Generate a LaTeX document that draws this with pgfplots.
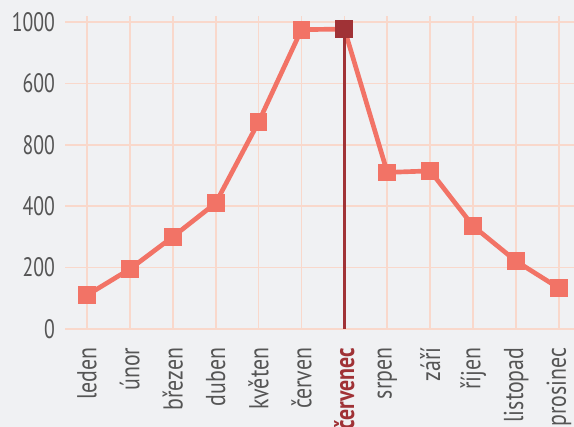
\documentclass[border=0pt]{standalone}
\usepackage{pgfplots}
\pgfplotsset{compat=1.18}
\usepackage{fontspec}
\setmainfont[FakeStretch=0.74]{PT Sans}
\newfontfamily\xf[FakeStretch=0.80]{PT Sans}
\definecolor{bg}{HTML}{F0F1F3}
\definecolor{gridc}{HTML}{F9D8CB}
\definecolor{linec}{HTML}{F27366}
\definecolor{hl}{HTML}{A03236}
\definecolor{txt}{HTML}{555555}
\begin{document}
\begin{tikzpicture}
\fill[bg] (-48.75pt,-73.5pt) rectangle (381.75pt,246.75pt);
\begin{axis}[
  at={(0,0)}, anchor=south west,
  scale only axis, width=381.75pt, height=234.75pt,
  xmin=-0.51, xmax=11.35, ymin=0, ymax=1019.5,
  axis x line*=bottom, axis y line*=left,
  x axis line style={draw=gridc, line width=1.7pt},
  y axis line style={draw=none},
  major tick length=0pt,
  grid=major, grid style={draw=gridc, line width=1.3pt},
  xtick={0,...,11},
  xticklabels={leden,únor,březen,duben,květen,červen,{\color{hl}\bfseries červenec},srpen,září,říjen,listopad,prosinec},
  ytick={0,200,400,600,800,1000},
  yticklabels={0,200,400,800,600,1000},
  /pgf/number format/assume math mode=true,
  ticklabel style={text=txt},
  yticklabel style={font=\fontsize{20}{22}\selectfont, anchor=east},
  xticklabel style={font=\xf\fontsize{20.5}{22}\selectfont, rotate=90, anchor=east},
  x tick label style={inner sep=0pt, outer sep=0pt},
  xticklabel shift=14pt,
  yticklabel shift=4pt,
  clip=false,
]
\addplot[color=linec, line width=3.5pt, mark=square*, mark size=6.3pt, mark options={solid, fill=linec, draw=linec, line width=0pt}]
coordinates {(0,110) (1,195) (2,300) (3,410) (4,674) (5,975) (6,977) (7,510) (8,515) (9,335) (10,221) (11,133)};
\addplot[ycomb, color=hl, line width=1.7pt, mark=none] coordinates {(6,977)};
\addplot[only marks, mark=square*, mark size=6.4pt, mark options={fill=hl, draw=hl, line width=0pt}] coordinates {(6,977)};
\end{axis}
\pgfresetboundingbox
\path[use as bounding box] (-48.75pt,-73.5pt) rectangle (381.75pt,246.75pt);
\end{tikzpicture}
\end{document}
